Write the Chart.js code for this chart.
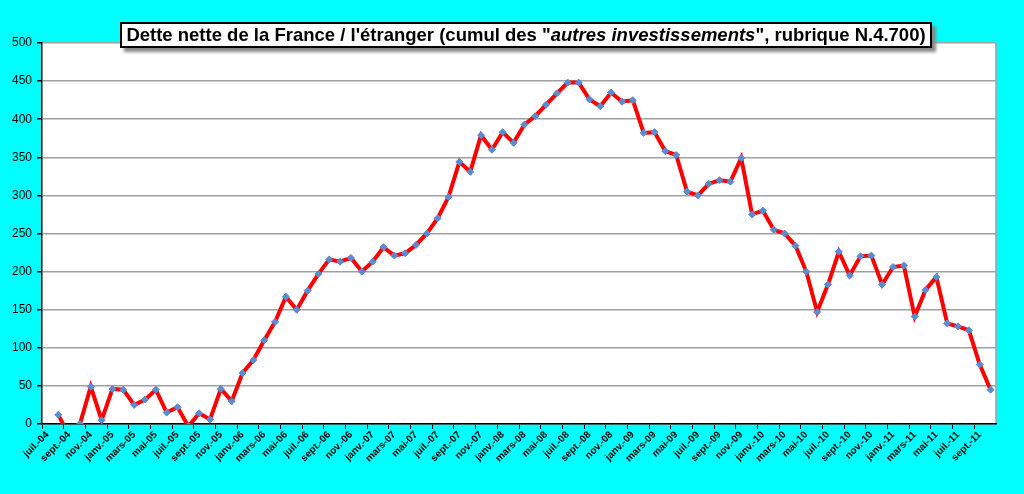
<!DOCTYPE html>
<html lang="fr">
<head>
<meta charset="utf-8">
<title>Dette nette de la France / l'étranger</title>
<script src="https://cdn.jsdelivr.net/npm/chart.js@4.4.0/dist/chart.umd.min.js"></script>
<style>
  html, body { margin: 0; padding: 0; background: #00ffff; }
  #wrap { position: relative; width: 1024px; height: 494px; }
  #titre {
    position: absolute; left: 120px; top: 22px; width: 808px; height: 22px;
    background: #fff; border: 2px solid #000;
    box-shadow: 4px 4px 3px #888;
    font: bold 18.5px "Liberation Sans", Arial, sans-serif;
    line-height: 22px; text-align: center; color: #000; white-space: nowrap;
  }
  #titre i { font-style: italic; }
</style>
</head>
<body>
<div id="wrap">
  <canvas id="graphique" width="1024" height="494"></canvas>
  <div id="titre">Dette nette de la France / l'étranger (cumul des "<i>autres investissements</i>", rubrique N.4.700)</div>
</div>
<script>
// Mois (de juil.-04 à oct.-11)
const mois = ["janv.", "févr.", "mars", "avr.", "mai", "juin", "juil.", "août", "sept.", "oct.", "nov.", "déc."];
const categories = [];
for (let a = 2004; a <= 2011; a++) {
  for (let m = 0; m < 12; m++) {
    if (a === 2004 && m < 6) continue;
    if (a === 2011 && m > 9) continue;
    categories.push(mois[m] + "-" + String(a).slice(2));
  }
}

// Dette nette (milliards d'euros)
const dette = [
  null, 12, -15, 0, 49, 5,
  46, 45, 25, 32, 45, 15, 22, -3, 14, 6, 46, 30,
  67, 84, 110, 134, 167, 150, 175, 197, 216, 213, 218, 200,
  213, 232, 221, 224, 235, 250, 270, 298, 344, 331, 379, 360,
  383, 369, 393, 404, 419, 434, 448, 448, 426, 417, 435, 423,
  425, 382, 383, 358, 353, 305, 300, 315, 320, 318, 349, 275,
  280, 255, 250, 234, 200, 147, 183, 226, 195, 220, 221, 183,
  206, 208, 141, 176, 193, 132, 128, 123, 78, 45
];

// Graduations de l'axe vertical
const yMin = 0, yMax = 500, yPas = 50;

// Fond cyan, zone de tracé blanche, bord droit gris
const fondPlugin = {
  id: "fond",
  beforeDraw(chart) {
    const { ctx, chartArea: z } = chart;
    ctx.save();
    ctx.fillStyle = "#00ffff";
    ctx.fillRect(0, 0, chart.width, chart.height);
    ctx.fillStyle = "#ffffff";
    ctx.fillRect(z.left, z.top, z.right - z.left, z.bottom - z.top);
    ctx.strokeStyle = "#a0a0a0";
    ctx.lineWidth = 1.5;
    ctx.beginPath();
    ctx.moveTo(z.right, z.top);
    ctx.lineTo(z.right, z.bottom);
    ctx.stroke();
    ctx.restore();
  }
};

new Chart(document.getElementById("graphique"), {
  type: "line",
  data: {
    labels: categories,
    datasets: [{
      data: dette,
      borderColor: "#ff0000",
      borderWidth: 4,
      tension: 0,
      pointStyle: "rectRot",
      pointRadius: 3.5,
      pointBackgroundColor: "#5b8bd0",
      pointBorderColor: "#5b8bd0",
      pointBorderWidth: 1
    }]
  },
  options: {
    responsive: false,
    animation: false,
    devicePixelRatio: 1,
    layout: { padding: { top: 43, right: 28, left: 0, bottom: 0 } },
    plugins: { legend: { display: false }, tooltip: { enabled: false } },
    scales: {
      x: {
        offset: true,
        afterFit(scale) { scale.height = 70; },
        grid: {
          offset: true,
          drawOnChartArea: false,
          drawTicks: true,
          tickLength: 5,
          color: (c) => (c.index % 2 === 0 ? "#000" : "rgba(0,0,0,0)")
        },
        border: { color: "#000", width: 1.5 },
        ticks: {
          autoSkip: false,
          maxRotation: 45,
          minRotation: 45,
          padding: 0,
          color: "#000",
          font: { family: "Liberation Sans, Arial", weight: "bold", size: 10 },
          callback: (v, i) => (i % 2 === 0 ? categories[i] : "")
        }
      },
      y: {
        min: yMin,
        max: yMax,
        afterFit(scale) { scale.width = 42; },
        grid: { color: "#a0a0a0", lineWidth: 1.5, tickLength: 5, tickColor: "#000" },
        border: { color: "#000", width: 1.5 },
        ticks: {
          stepSize: yPas,
          padding: 5,
          color: "#000",
          font: { family: "Liberation Sans, Arial", size: 12 }
        }
      }
    }
  },
  plugins: [fondPlugin]
});
</script>
</body>
</html>
